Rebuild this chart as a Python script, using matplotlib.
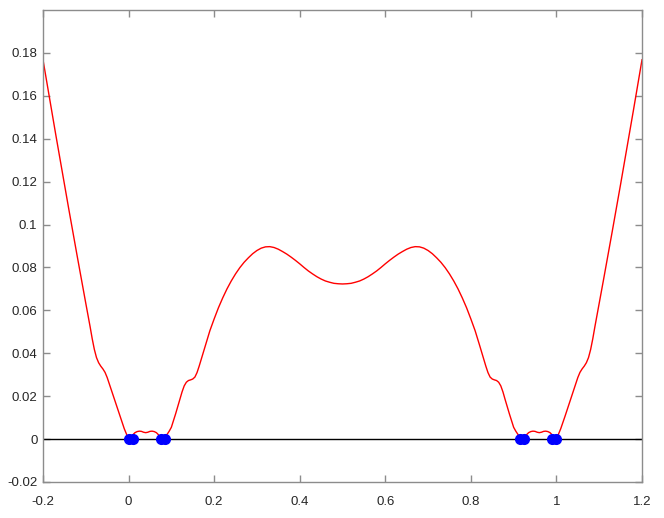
import matplotlib
matplotlib.use("Agg")
import matplotlib.pyplot as plt

# curve values (symmetric around x = 0.5)
x_curve = [
    -0.20, -0.19, -0.18, -0.17, -0.16, -0.15, -0.14, -0.13, -0.12, -0.11,
    -0.10, -0.09, -0.085, -0.08, -0.075, -0.07, -0.065, -0.06, -0.055, -0.05,
    -0.045, -0.04, -0.03, -0.02, -0.01, 0.0,
    0.005, 0.01, 0.015, 0.02, 0.025, 0.03, 0.035, 0.04, 0.045, 0.05,
    0.055, 0.06, 0.065, 0.07, 0.075, 0.08,
    0.085, 0.09, 0.095, 0.10, 0.11, 0.12, 0.125, 0.13, 0.135, 0.14,
    0.145, 0.15, 0.155, 0.16, 0.165, 0.17, 0.18, 0.19, 0.20, 0.21,
    0.22, 0.23, 0.24, 0.25, 0.26, 0.27, 0.28, 0.29, 0.30, 0.31,
    0.32, 0.33, 0.34, 0.35, 0.36, 0.37, 0.38, 0.39, 0.40, 0.41,
    0.42, 0.43, 0.44, 0.45, 0.46, 0.47, 0.48, 0.49, 0.50,
    0.51, 0.52, 0.53, 0.54, 0.55, 0.56, 0.57, 0.58, 0.59, 0.60,
    0.61, 0.62, 0.63, 0.64, 0.65, 0.66, 0.67, 0.68, 0.69, 0.70,
    0.71, 0.72, 0.73, 0.74, 0.75, 0.76, 0.77, 0.78, 0.79, 0.80,
    0.81, 0.82, 0.83, 0.835, 0.84, 0.845, 0.85, 0.855, 0.86, 0.865,
    0.87, 0.875, 0.88, 0.89, 0.90, 0.905, 0.91, 0.915, 0.92,
    0.925, 0.93, 0.935, 0.94, 0.945, 0.95, 0.955, 0.96, 0.965, 0.97,
    0.975, 0.98, 0.985, 0.99, 0.995, 1.0,
    1.01, 1.02, 1.03, 1.04, 1.045, 1.05, 1.055, 1.06, 1.065, 1.07,
    1.075, 1.08, 1.085, 1.09, 1.10, 1.11, 1.12, 1.13, 1.14, 1.15,
    1.16, 1.17, 1.18, 1.19, 1.20,
]
y_curve = [
    0.1768, 0.1650, 0.1533, 0.1417, 0.1302, 0.1188, 0.1075, 0.0963, 0.0852, 0.0742,
    0.0633, 0.0525, 0.0468, 0.0418, 0.0380, 0.0356, 0.0340, 0.0327, 0.0311, 0.0287,
    0.0257, 0.0226, 0.0166, 0.0106, 0.0048, 0.0,
    0.0008, 0.0020, 0.0030, 0.0035, 0.0037, 0.0036, 0.0032, 0.0030, 0.0032, 0.0036,
    0.0037, 0.0035, 0.0030, 0.0020, 0.0008, 0.0,
    0.0009, 0.0022, 0.0037, 0.0055, 0.0118, 0.0185, 0.0220, 0.0248, 0.0265, 0.0273,
    0.0276, 0.0280, 0.0289, 0.0310, 0.0340, 0.0373, 0.0440, 0.0505, 0.0560, 0.0612,
    0.0658, 0.0700, 0.0737, 0.0770, 0.0799, 0.0824, 0.0845, 0.0864, 0.0879, 0.0890,
    0.0896, 0.0897, 0.0893, 0.0885, 0.0874, 0.0862, 0.0848, 0.0833, 0.0817, 0.0800,
    0.0784, 0.0770, 0.0757, 0.0746, 0.0737, 0.0731, 0.0726, 0.0724, 0.0723,
    0.0724, 0.0726, 0.0731, 0.0737, 0.0746, 0.0757, 0.0770, 0.0784, 0.0800, 0.0817,
    0.0833, 0.0848, 0.0862, 0.0874, 0.0885, 0.0893, 0.0897, 0.0896, 0.0890, 0.0879,
    0.0864, 0.0845, 0.0824, 0.0799, 0.0770, 0.0737, 0.0700, 0.0658, 0.0612, 0.0560,
    0.0505, 0.0440, 0.0373, 0.0340, 0.0310, 0.0289, 0.0280, 0.0276, 0.0273, 0.0265,
    0.0248, 0.0220, 0.0185, 0.0118, 0.0055, 0.0037, 0.0022, 0.0009, 0.0,
    0.0008, 0.0020, 0.0030, 0.0035, 0.0037, 0.0036, 0.0032, 0.0030, 0.0032, 0.0036,
    0.0037, 0.0035, 0.0030, 0.0020, 0.0008, 0.0,
    0.0048, 0.0106, 0.0166, 0.0226, 0.0257, 0.0287, 0.0311, 0.0327, 0.0340, 0.0356,
    0.0380, 0.0418, 0.0468, 0.0525, 0.0633, 0.0742, 0.0852, 0.0963, 0.1075, 0.1188,
    0.1302, 0.1417, 0.1533, 0.1650, 0.1768,
]

# zero points (blue dots)
x_roots = [0.0, 0.01, 0.075, 0.085, 0.915, 0.925, 0.99, 1.0]
y_roots = [0, 0, 0, 0, 0, 0, 0, 0]

x_ticks = [-0.2, 0, 0.2, 0.4, 0.6, 0.8, 1, 1.2]
x_labels = ["-0.2", "0", "0.2", "0.4", "0.6", "0.8", "1", "1.2"]
y_ticks = [-0.02, 0, 0.02, 0.04, 0.06, 0.08, 0.1, 0.12, 0.14, 0.16, 0.18]
y_labels = ["-0.02", "0", "0.02", "0.04", "0.06", "0.08", "0.1", "0.12", "0.14", "0.16", "0.18"]

plt.rcParams['font.family'] = ['Liberation Sans', 'DejaVu Sans']

fig = plt.figure(figsize=(6.64, 5.18), dpi=100)
ax = fig.add_axes([43 / 664, 36 / 518, 599 / 664, 472 / 518])

ax.plot([-0.2, 1.2], [0, 0], color='k', lw=1)
ax.plot(x_curve, y_curve, color='r', lw=1)
ax.plot(x_roots, y_roots, 'o', color='b', markersize=8, markeredgewidth=0)

ax.set_xlim(-0.2, 1.2)
ax.set_ylim(-0.02, 0.2)
ax.set_xticks(x_ticks)
ax.set_xticklabels(x_labels)
ax.set_yticks(y_ticks)
ax.set_yticklabels(y_labels)

for s in ax.spines.values():
    s.set_color('#8c8c8c')
    s.set_linewidth(1)
ax.tick_params(axis='both', direction='in', length=5, width=1, color='#8c8c8c',
               labelsize=9.5, labelcolor='#262626', top=True, right=True)
ax.tick_params(axis='x', pad=10)
ax.tick_params(axis='y', pad=4)

fig.savefig("out.png", dpi=100)
